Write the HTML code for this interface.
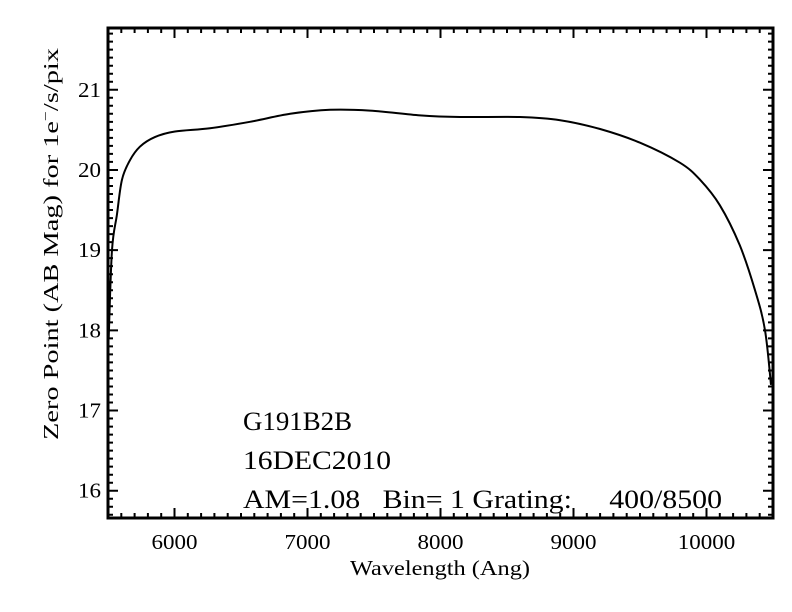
<!DOCTYPE html>
<html><head><meta charset="utf-8"><style>
body{margin:0;background:#fff}
svg{display:block;font-family:"Liberation Serif",serif}
</style></head><body>
<svg width="792" height="612" viewBox="0 0 792 612">
<g id="ticks"></g>
<rect x="108" y="28" width="665" height="490" fill="none" stroke="#000" stroke-width="3"/>
<path id="curve" fill="none" stroke="#000" stroke-width="2"/>
<g id="labels" font-size="21"></g>
<text x="350" y="575" font-size="21" textLength="180" lengthAdjust="spacingAndGlyphs">Wavelength (Ang)</text>
<text transform="translate(58,440) rotate(-90)" font-size="21" textLength="392" lengthAdjust="spacingAndGlyphs">Zero Point (AB Mag) for 1e<tspan dy="-8" font-size="13">−</tspan><tspan dy="8">/s/pix</tspan></text>
<text x="243" y="430" font-size="26" textLength="109" lengthAdjust="spacingAndGlyphs">G191B2B</text>
<text x="243" y="469" font-size="26" textLength="148" lengthAdjust="spacingAndGlyphs">16DEC2010</text>
<text x="243" y="508" font-size="26" xml:space="preserve" textLength="479" lengthAdjust="spacingAndGlyphs">AM=1.08   Bin= 1 Grating:     400/8500</text>
</svg>
<script>
const wavelengths=[5505,5530,5568,5605,5665,5740,5853,6004,6267,6568,6870,7170,7470,7846,8147,8598,8900,9200,9500,9800,9950,10100,10250,10365,10440,10485];
const zeroPoints=[17.9,19.0,19.45,19.88,20.12,20.29,20.41,20.48,20.52,20.6,20.7,20.75,20.74,20.68,20.66,20.66,20.62,20.51,20.34,20.09,19.88,19.56,19.06,18.5,18.0,17.32];
const xTicks=[6000,7000,8000,9000,10000];
const yTicks=[16,17,18,19,20,21];
const X0=108,X1=773,Y0=518,Y1=28,XMIN=5500,XMAX=10500,YMIN=15.66,YMAX=21.77;
const sx=v=>X0+(v-XMIN)/(XMAX-XMIN)*(X1-X0);
const sy=v=>Y0-(v-YMIN)/(YMAX-YMIN)*(Y0-Y1);
const NS="http://www.w3.org/2000/svg";
const P=wavelengths.map((w,i)=>[sx(w),sy(zeroPoints[i])]);
let d="M"+P[0][0].toFixed(1)+","+P[0][1].toFixed(1);
for(let i=0;i<P.length-1;i++){
  const p0=P[Math.max(0,i-1)],p1=P[i],p2=P[i+1],p3=P[Math.min(P.length-1,i+2)];
  const c1=[p1[0]+(p2[0]-p0[0])/6,p1[1]+(p2[1]-p0[1])/6];
  const c2=[p2[0]-(p3[0]-p1[0])/6,p2[1]-(p3[1]-p1[1])/6];
  d+=`C${c1[0].toFixed(1)},${c1[1].toFixed(1)} ${c2[0].toFixed(1)},${c2[1].toFixed(1)} ${p2[0].toFixed(1)},${p2[1].toFixed(1)}`;
}
document.getElementById("curve").setAttribute("d",d);
const tg=document.getElementById("ticks"),lg=document.getElementById("labels");
let td="";
for(let w=5500;w<=10500;w+=100){const x=sx(w),L=(w%1000===0)?10:5;td+=`M${x},${Y0}v${-L}M${x},${Y1}v${L}`;}
for(let k=Math.ceil(YMIN*10);k<=YMAX*10;k++){const y=sy(k/10),L=(k%10===0)?10:5;td+=`M${X0},${y}h${L}M${X1},${y}h${-L}`;}
const tp=document.createElementNS(NS,"path");
tp.setAttribute("d",td);tp.setAttribute("stroke","#000");tp.setAttribute("stroke-width","2");


tg.appendChild(tp);
xTicks.forEach(v=>{const t=document.createElementNS(NS,"text");
t.setAttribute("x",sx(v));t.setAttribute("y",549);t.setAttribute("text-anchor","middle");t.textContent=v;
t.setAttribute("textLength",String(v).length*11.5);t.setAttribute("lengthAdjust","spacingAndGlyphs");


lg.appendChild(t);});
yTicks.forEach(v=>{const t=document.createElementNS(NS,"text");
t.setAttribute("x",101);t.setAttribute("y",sy(v)+7);t.setAttribute("text-anchor","end");t.textContent=v;
t.setAttribute("textLength",23);t.setAttribute("lengthAdjust","spacingAndGlyphs");


lg.appendChild(t);});
</script>
</body></html>
